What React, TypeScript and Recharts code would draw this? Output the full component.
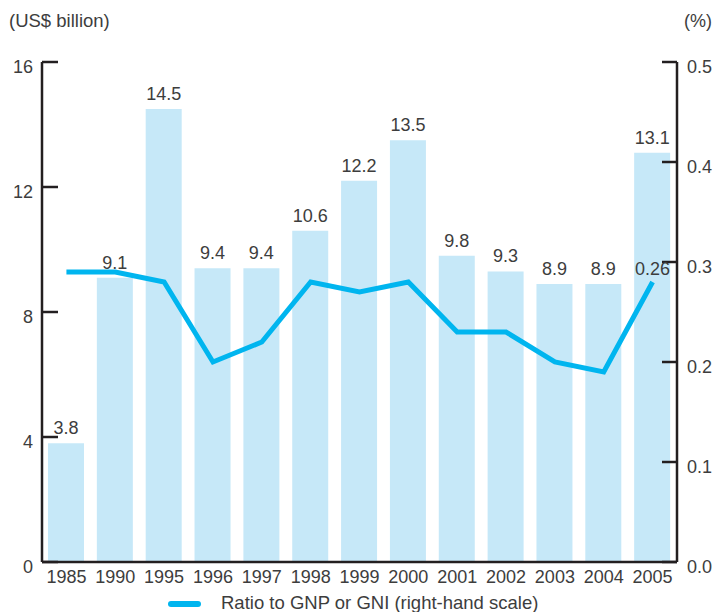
import React from 'react';
import { ComposedChart, Bar, Line, XAxis, YAxis, LabelList, Legend } from 'recharts';

// Net ODA disbursements and ratio to GNP/GNI
const years = ['1985', '1990', '1995', '1996', '1997', '1998', '1999', '2000', '2001', '2002', '2003', '2004', '2005'];
const odaAmounts = [3.8, 9.1, 14.5, 9.4, 9.4, 10.6, 12.2, 13.5, 9.8, 9.3, 8.9, 8.9, 13.1];
const gniRatios = [0.29, 0.29, 0.28, 0.2, 0.22, 0.28, 0.27, 0.28, 0.23, 0.23, 0.2, 0.19, 0.28];
const ratioLabels = ['', '', '', '', '', '', '', '', '', '', '', '', '0.26'];
const leftTicks = [0, 4, 8, 12, 16];
const rightTicks = [0, 0.1, 0.2, 0.3, 0.4, 0.5];

const FONT = "'Liberation Sans', Arial, sans-serif";
const TEXT = '#3d3d3d';
const AXIS = '#231f20';
const BAR = '#c6e8f8';
const LINE = '#00b5ef';

const chartData = years.map((year, i) => ({
  year,
  amount: odaAmounts[i],
  ratio: gniRatios[i],
  ratioLabel: ratioLabels[i],
}));

// ticks point inward, labels sit a little below the tick
const LeftTick = (props: any) => {
  const { x, y, payload } = props;
  return (
    <g>
      <line x1={x + 9} x2={x + 25} y1={y} y2={y} stroke={AXIS} strokeWidth={2.5} />
      <text x={x} y={y + 11} textAnchor="end" fill={TEXT} fontSize={18} fontFamily={FONT}>
        {payload.value}
      </text>
    </g>
  );
};

const RightTick = (props: any) => {
  const { x, y, payload } = props;
  return (
    <g>
      <line x1={x - 25} x2={x - 10} y1={y} y2={y} stroke={AXIS} strokeWidth={2.5} />
      <text x={x} y={y + 11} textAnchor="start" fill={TEXT} fontSize={18} fontFamily={FONT}>
        {Number(payload.value).toFixed(1)}
      </text>
    </g>
  );
};

const LegendContent = () => (
  <svg width={715} height={22} style={{ display: 'block' }}>
    <line x1={171} x2={198} y1={14} y2={14} stroke={LINE} strokeWidth={6} strokeLinecap="round" />
    <text x={221} y={19} fill={TEXT} fontSize={18.5} fontFamily={FONT}>
      Ratio to GNP or GNI (right-hand scale)
    </text>
  </svg>
);

export default function App() {
  return (
    <div style={{ position: 'absolute', left: 0, top: 0, background: '#fff' }}>
      <ComposedChart
        width={715}
        height={612}
        data={chartData}
        margin={{ top: 62, right: 0, bottom: 0, left: 0 }}
      >
        <XAxis
          dataKey="year"
          height={28}
          tickLine={false}
          tickSize={0}
          tickMargin={8}
          axisLine={{ stroke: AXIS, strokeWidth: 2.5 }}
          tick={{ fill: TEXT, fontSize: 18, fontFamily: FONT }}
          interval={0}
        />
        <YAxis
          yAxisId="left"
          orientation="left"
          width={42}
          domain={[0, 16]}
          ticks={leftTicks}
          tickLine={false}
          tickSize={0}
          tickMargin={9}
          axisLine={{ stroke: AXIS, strokeWidth: 2.5 }}
          tick={<LeftTick />}
          label={{
            content: () => (
              <text x={9} y={27} fill={TEXT} fontSize={18.5} fontFamily={FONT}>
                (US$ billion)
              </text>
            ),
          }}
        />
        <YAxis
          yAxisId="right"
          orientation="right"
          width={38}
          domain={[0, 0.5]}
          ticks={rightTicks}
          tickLine={false}
          tickSize={0}
          tickMargin={10}
          axisLine={{ stroke: AXIS, strokeWidth: 2.5 }}
          tick={<RightTick />}
          label={{
            content: () => (
              <text x={684} y={27} fill={TEXT} fontSize={18} fontFamily={FONT}>
                (%)
              </text>
            ),
          }}
        />
        <Legend
          verticalAlign="bottom"
          height={22}
          wrapperStyle={{ left: 0, bottom: 0, width: 715 }}
          content={<LegendContent />}
        />
        <Bar yAxisId="left" dataKey="amount" fill={BAR} barSize={36} isAnimationActive={false}>
          <LabelList dataKey="amount" position="top" offset={9} fill={TEXT} fontSize={18} fontFamily={FONT} />
        </Bar>
        <Line
          yAxisId="right"
          type="linear"
          dataKey="ratio"
          stroke={LINE}
          strokeWidth={5}
          dot={false}
          activeDot={false}
          isAnimationActive={false}
        >
          <LabelList dataKey="ratioLabel" position="top" offset={7} fill={TEXT} fontSize={18} fontFamily={FONT} />
        </Line>
      </ComposedChart>
    </div>
  );
}
